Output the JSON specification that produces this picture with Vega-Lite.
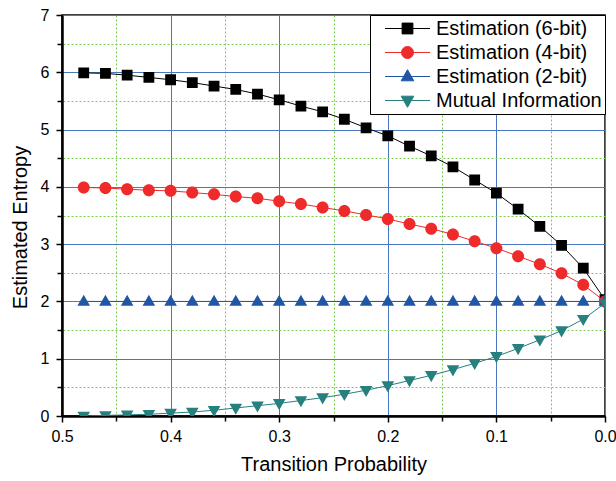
{
  "$schema": "https://vega.github.io/schema/vega-lite/v6.json",
  "width": 543,
  "height": 401,
  "autosize": {"type": "none"},
  "padding": {"left": 62, "top": 15, "right": 11, "bottom": 65},
  "background": "white",
  "config": {
    "view": {"stroke": "black", "strokeWidth": 1.5},
    "font": "Liberation Sans"
  },
  "datasets": {
    "d": [
      {"p":0.48,"v":5.99,"s":"Estimation (6-bit)"},{"p":0.46,"v":5.98,"s":"Estimation (6-bit)"},{"p":0.44,"v":5.95,"s":"Estimation (6-bit)"},{"p":0.42,"v":5.91,"s":"Estimation (6-bit)"},{"p":0.40,"v":5.87,"s":"Estimation (6-bit)"},{"p":0.38,"v":5.82,"s":"Estimation (6-bit)"},{"p":0.36,"v":5.76,"s":"Estimation (6-bit)"},{"p":0.34,"v":5.70,"s":"Estimation (6-bit)"},{"p":0.32,"v":5.62,"s":"Estimation (6-bit)"},{"p":0.30,"v":5.52,"s":"Estimation (6-bit)"},{"p":0.28,"v":5.41,"s":"Estimation (6-bit)"},{"p":0.26,"v":5.31,"s":"Estimation (6-bit)"},{"p":0.24,"v":5.18,"s":"Estimation (6-bit)"},{"p":0.22,"v":5.03,"s":"Estimation (6-bit)"},{"p":0.20,"v":4.89,"s":"Estimation (6-bit)"},{"p":0.18,"v":4.71,"s":"Estimation (6-bit)"},{"p":0.16,"v":4.54,"s":"Estimation (6-bit)"},{"p":0.14,"v":4.35,"s":"Estimation (6-bit)"},{"p":0.12,"v":4.12,"s":"Estimation (6-bit)"},{"p":0.10,"v":3.89,"s":"Estimation (6-bit)"},{"p":0.08,"v":3.61,"s":"Estimation (6-bit)"},{"p":0.06,"v":3.31,"s":"Estimation (6-bit)"},{"p":0.04,"v":2.98,"s":"Estimation (6-bit)"},{"p":0.02,"v":2.58,"s":"Estimation (6-bit)"},{"p":0.00,"v":2.03,"s":"Estimation (6-bit)"},
      {"p":0.48,"v":3.99,"s":"Estimation (4-bit)"},{"p":0.46,"v":3.98,"s":"Estimation (4-bit)"},{"p":0.44,"v":3.96,"s":"Estimation (4-bit)"},{"p":0.42,"v":3.94,"s":"Estimation (4-bit)"},{"p":0.40,"v":3.93,"s":"Estimation (4-bit)"},{"p":0.38,"v":3.90,"s":"Estimation (4-bit)"},{"p":0.36,"v":3.87,"s":"Estimation (4-bit)"},{"p":0.34,"v":3.83,"s":"Estimation (4-bit)"},{"p":0.32,"v":3.80,"s":"Estimation (4-bit)"},{"p":0.30,"v":3.75,"s":"Estimation (4-bit)"},{"p":0.28,"v":3.70,"s":"Estimation (4-bit)"},{"p":0.26,"v":3.64,"s":"Estimation (4-bit)"},{"p":0.24,"v":3.58,"s":"Estimation (4-bit)"},{"p":0.22,"v":3.51,"s":"Estimation (4-bit)"},{"p":0.20,"v":3.44,"s":"Estimation (4-bit)"},{"p":0.18,"v":3.35,"s":"Estimation (4-bit)"},{"p":0.16,"v":3.27,"s":"Estimation (4-bit)"},{"p":0.14,"v":3.17,"s":"Estimation (4-bit)"},{"p":0.12,"v":3.05,"s":"Estimation (4-bit)"},{"p":0.10,"v":2.93,"s":"Estimation (4-bit)"},{"p":0.08,"v":2.79,"s":"Estimation (4-bit)"},{"p":0.06,"v":2.65,"s":"Estimation (4-bit)"},{"p":0.04,"v":2.49,"s":"Estimation (4-bit)"},{"p":0.02,"v":2.29,"s":"Estimation (4-bit)"},{"p":0.00,"v":2.00,"s":"Estimation (4-bit)"},
      {"p":0.48,"v":2,"s":"Estimation (2-bit)"},{"p":0.46,"v":2,"s":"Estimation (2-bit)"},{"p":0.44,"v":2,"s":"Estimation (2-bit)"},{"p":0.42,"v":2,"s":"Estimation (2-bit)"},{"p":0.40,"v":2,"s":"Estimation (2-bit)"},{"p":0.38,"v":2,"s":"Estimation (2-bit)"},{"p":0.36,"v":2,"s":"Estimation (2-bit)"},{"p":0.34,"v":2,"s":"Estimation (2-bit)"},{"p":0.32,"v":2,"s":"Estimation (2-bit)"},{"p":0.30,"v":2,"s":"Estimation (2-bit)"},{"p":0.28,"v":2,"s":"Estimation (2-bit)"},{"p":0.26,"v":2,"s":"Estimation (2-bit)"},{"p":0.24,"v":2,"s":"Estimation (2-bit)"},{"p":0.22,"v":2,"s":"Estimation (2-bit)"},{"p":0.20,"v":2,"s":"Estimation (2-bit)"},{"p":0.18,"v":2,"s":"Estimation (2-bit)"},{"p":0.16,"v":2,"s":"Estimation (2-bit)"},{"p":0.14,"v":2,"s":"Estimation (2-bit)"},{"p":0.12,"v":2,"s":"Estimation (2-bit)"},{"p":0.10,"v":2,"s":"Estimation (2-bit)"},{"p":0.08,"v":2,"s":"Estimation (2-bit)"},{"p":0.06,"v":2,"s":"Estimation (2-bit)"},{"p":0.04,"v":2,"s":"Estimation (2-bit)"},{"p":0.02,"v":2,"s":"Estimation (2-bit)"},{"p":0.00,"v":2,"s":"Estimation (2-bit)"},
      {"p":0.48,"v":0.00,"s":"Mutual Information"},{"p":0.46,"v":0.01,"s":"Mutual Information"},{"p":0.44,"v":0.02,"s":"Mutual Information"},{"p":0.42,"v":0.03,"s":"Mutual Information"},{"p":0.40,"v":0.05,"s":"Mutual Information"},{"p":0.38,"v":0.07,"s":"Mutual Information"},{"p":0.36,"v":0.10,"s":"Mutual Information"},{"p":0.34,"v":0.14,"s":"Mutual Information"},{"p":0.32,"v":0.18,"s":"Mutual Information"},{"p":0.30,"v":0.22,"s":"Mutual Information"},{"p":0.28,"v":0.27,"s":"Mutual Information"},{"p":0.26,"v":0.32,"s":"Mutual Information"},{"p":0.24,"v":0.38,"s":"Mutual Information"},{"p":0.22,"v":0.45,"s":"Mutual Information"},{"p":0.20,"v":0.53,"s":"Mutual Information"},{"p":0.18,"v":0.62,"s":"Mutual Information"},{"p":0.16,"v":0.71,"s":"Mutual Information"},{"p":0.14,"v":0.81,"s":"Mutual Information"},{"p":0.12,"v":0.92,"s":"Mutual Information"},{"p":0.10,"v":1.04,"s":"Mutual Information"},{"p":0.08,"v":1.18,"s":"Mutual Information"},{"p":0.06,"v":1.33,"s":"Mutual Information"},{"p":0.04,"v":1.49,"s":"Mutual Information"},{"p":0.02,"v":1.69,"s":"Mutual Information"},{"p":0.00,"v":1.97,"s":"Mutual Information"}
    ]
  },
  "data": {"name": "d"},
  "encoding": {
    "x": {
      "field": "p", "type": "quantitative",
      "scale": {"domain": [0, 0.5], "reverse": true, "nice": false, "zero": false},
      "axis": {
        "title": "Transition Probability",
        "values": [0,0.05,0.1,0.15,0.2,0.25,0.3,0.35,0.4,0.45,0.5],
        "labelExpr": "abs(datum.value*10-round(datum.value*10))<0.001 ? format(datum.value,'.1f') : ''",
        "labelOverlap": false, "labelFlush": false,
        "domainColor": "black", "domainWidth": 2.5,
        "tickColor": "black", "tickWidth": 1.5,
        "tickSize": {"condition": {"test": "abs(datum.value*10-round(datum.value*10))<0.001", "value": 6}, "value": 5},
        "labelFont": "Liberation Sans", "labelFontSize": 16, "labelColor": "black", "labelPadding": 6,
        "titleFont": "Liberation Sans", "titleFontSize": 20, "titleFontWeight": "normal", "titleColor": "black", "titlePadding": 10,
        "grid": true,
        "gridColor": {"condition": {"test": "abs(datum.value*10-round(datum.value*10))<0.001", "value": "#4a78c0"}, "value": "#7ccb50"},
        "gridDash": {"condition": {"test": "abs(datum.value*10-round(datum.value*10))<0.001", "value": []}, "value": [2, 2]},
        "gridWidth": 1, "gridOpacity": 1
      }
    },
    "y": {
      "field": "v", "type": "quantitative",
      "scale": {"domain": [0, 7], "nice": false},
      "axis": {
        "title": "Estimated Entropy",
        "titleY": 212,
        "values": [0,0.5,1,1.5,2,2.5,3,3.5,4,4.5,5,5.5,6,6.5,7],
        "labelExpr": "datum.value % 1 == 0 ? format(datum.value,'d') : ''",
        "labelOverlap": false, "labelFlush": false,
        "domainColor": "black", "domainWidth": 2.5,
        "tickColor": "black", "tickWidth": 1.5,
        "tickSize": {"condition": {"test": "datum.value % 1 == 0", "value": 6}, "value": 5},
        "labelFont": "Liberation Sans", "labelFontSize": 16, "labelColor": "black", "labelPadding": 7,
        "titleFont": "Liberation Sans", "titleFontSize": 20, "titleFontWeight": "normal", "titleColor": "black", "titlePadding": 10,
        "grid": true,
        "gridColor": {"condition": {"test": "datum.value % 1 == 0", "value": "#4a78c0"}, "value": "#7ccb50"},
        "gridDash": {"condition": {"test": "datum.value % 1 == 0", "value": []}, "value": [2, 2]},
        "gridWidth": 1, "gridOpacity": 1
      }
    },
    "color": {
      "field": "s", "type": "nominal",
      "scale": {"domain": ["Estimation (6-bit)","Estimation (4-bit)","Estimation (2-bit)","Mutual Information"], "range": ["#000000","#ee2a2a","#2156a5","#26807e"]},
      "legend": {
        "title": null, "orient": "top-right", "offset": 0,
        "fillColor": "white", "strokeColor": "black", "padding": 3, "cornerRadius": 0,
        "labelFont": "Liberation Sans", "labelFontSize": 20, "labelColor": "black",
        "symbolSize": 400, "symbolOffset": 24, "labelOffset": 18,
        "symbolStrokeWidth": 1, "rowPadding": 3, "labelLimit": 300
      }
    }
  },
  "layer": [
    {
      "mark": {"type": "line", "strokeWidth": 1, "clip": true},
      "encoding": {}
    },
    {
      "mark": {"type": "point", "filled": true, "opacity": 1, "size": 400, "clip": true},
      "encoding": {
        "shape": {
          "field": "s", "type": "nominal",
          "scale": {
            "domain": ["Estimation (6-bit)","Estimation (4-bit)","Estimation (2-bit)","Mutual Information"],
            "range": [
              "M-2.25,0H2.25M-0.54,-0.54H0.54V0.54H-0.54Z",
              "M-2.25,0H2.25M0.6,0C0.6,0.331,0.331,0.6,0,0.6C-0.331,0.6,-0.6,0.331,-0.6,0C-0.6,-0.331,-0.331,-0.6,0,-0.6C0.331,-0.6,0.6,-0.331,0.6,0Z",
              "M-2.25,0H2.25M0,-0.68L0.63,0.43L-0.63,0.43Z",
              "M-2.25,0H2.25M0,0.68L0.63,-0.43L-0.63,-0.43Z"
            ]
          },
          "legend": null
        }
      }
    }
  ]
}
